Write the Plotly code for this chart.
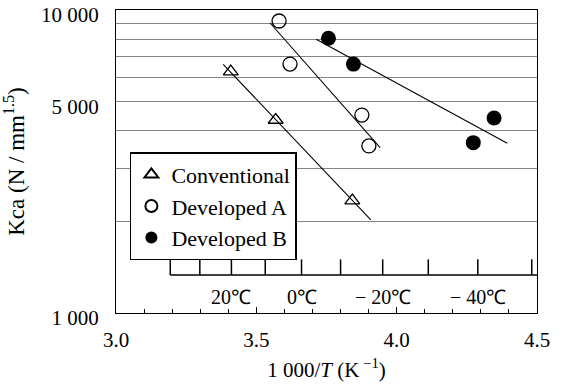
import plotly.graph_objects as go

# ---- data ----
conv_x = [3.409, 3.569, 3.842]
conv_y = [6260, 4335, 2350]
devA_x = [3.581, 3.620, 3.876, 3.901]
devA_y = [9200, 6630, 4500, 3560]
devB_x = [3.757, 3.846, 4.273, 4.347]
devB_y = [8070, 6630, 3650, 4400]

conv_fit_x = [3.382, 3.908]
conv_fit_y = [6620, 2028]
devA_fit_x = [3.549, 3.941]
devA_fit_y = [9060, 3513]
devB_fit_x = [3.713, 4.394]
devB_fit_y = [8005, 3631]

y_tickvals = [1000, 2000, 3000, 4000, 5000, 6000, 7000, 8000, 9000, 10000]
y_ticktext = ["1 000", "", "", "", "5 000", "", "", "", "", "10 000"]
x_tickvals = [3.0, 3.5, 4.0, 4.5]

temp_ticks_c = [40, 30, 20, 10, 0, -10, -20, -30, -40, -50]
temp_labels_c = [20, 0, -20, -40]
temp_label_text = ["20℃", "0℃", "− 20℃", "− 40℃"]

FONT = "Liberation Serif"

fig = go.Figure()

# fit lines
for fx, fy in [(conv_fit_x, conv_fit_y), (devA_fit_x, devA_fit_y), (devB_fit_x, devB_fit_y)]:
    fig.add_trace(go.Scatter(x=fx, y=fy, mode="lines", line=dict(color="black", width=1.1),
                             showlegend=False, hoverinfo="skip"))

fig.add_trace(go.Scatter(x=conv_x, y=conv_y, mode="markers", name="Conventional",
                         marker=dict(symbol="triangle-up-open", size=13, color="black",
                                     line=dict(width=1.3, color="black"))))
fig.add_trace(go.Scatter(x=devA_x, y=devA_y, mode="markers", name="Developed A",
                         marker=dict(symbol="circle-open", size=14, color="black",
                                     line=dict(width=1.3, color="black"))))
fig.add_trace(go.Scatter(x=devB_x, y=devB_y, mode="markers", name="Developed B",
                         marker=dict(symbol="circle", size=15, color="black",
                                     line=dict(width=0, color="black"))))

# inner temperature scale
def kinv(c):
    return 1000.0 / (c + 273.15)

y_line = 0.1254
y_tick_top = 0.177
fig.add_shape(type="line", xref="x", yref="paper", x0=kinv(temp_ticks_c[0]), x1=4.5,
              y0=y_line, y1=y_line, line=dict(color="black", width=1.5))
for c in temp_ticks_c:
    fig.add_shape(type="line", xref="x", yref="paper", x0=kinv(c), x1=kinv(c),
                  y0=y_line, y1=y_tick_top, line=dict(color="black", width=1.5))
for c, t in zip(temp_labels_c, temp_label_text):
    fig.add_annotation(x=kinv(c), y=0.054, xref="x", yref="paper", text=t, showarrow=False,
                       xanchor="center", yanchor="middle",
                       font=dict(family=FONT, size=20, color="black"))

fig.update_xaxes(range=[3.0, 4.5], tickvals=x_tickvals, tickformat=".1f",
                 ticks="inside", ticklen=6, tickwidth=1, tickcolor="black",
                 minor=dict(dtick=0.1, ticks="inside", ticklen=4, tickcolor="black", showgrid=False),
                 showgrid=False, zeroline=False, showline=True, linecolor="black", linewidth=1.3,
                 mirror=True, ticklabelstandoff=8, automargin=False,
                 tickfont=dict(family=FONT, size=21, color="black"),
                 title=dict(text="1 000/<i>T</i> (K<sup> −1</sup>)", standoff=10,
                            font=dict(family=FONT, size=21, color="black")))
fig.update_yaxes(type="log", range=[2.99995, 4.00005], tickvals=y_tickvals, ticktext=y_ticktext,
                 ticks="", showgrid=True, gridcolor="#858585", gridwidth=1,
                 zeroline=False, showline=True, linecolor="black", linewidth=1.3, mirror=True,
                 ticklabelstandoff=12, ticklabelshift=5, ticklabeloverflow="allow",
                 automargin=False,
                 tickfont=dict(family=FONT, size=21, color="black"),
                 title=dict(text="Kca (N / mm<sup>1.5</sup>)", standoff=11,
                            font=dict(family=FONT, size=23, color="black")))

fig.update_layout(
    width=561, height=388,
    margin=dict(l=116, r=24, t=10, b=75, autoexpand=False),
    plot_bgcolor="white", paper_bgcolor="white",
    font=dict(family=FONT, color="black"),
    legend=dict(x=0.033, y=0.531, xanchor="left", yanchor="top",
                bgcolor="white", bordercolor="black", borderwidth=1.5,
                font=dict(family=FONT, size=22, color="black"),
                itemsizing="constant", itemwidth=30, tracegroupgap=0),
    showlegend=True,
)

fig.write_html("out.html")
